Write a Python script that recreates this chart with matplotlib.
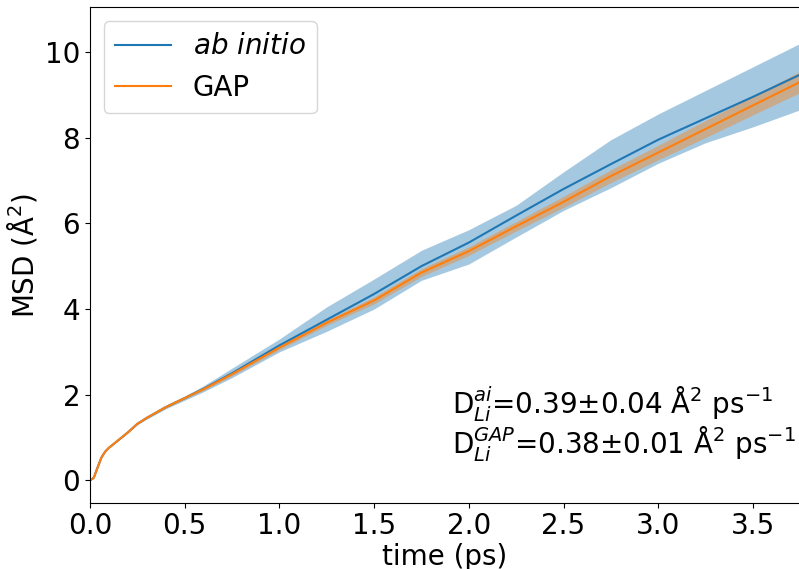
import numpy as np
import matplotlib
matplotlib.use("Agg")
import matplotlib.pyplot as plt

# time (ps)
t = [0, 0.02, 0.04, 0.06, 0.08, 0.1, 0.15, 0.2, 0.25, 0.3, 0.4, 0.5, 0.6, 0.75,
     1.0, 1.25, 1.5, 1.75, 2.0, 2.25, 2.5, 2.75, 3.0, 3.25, 3.5, 3.75]

# ab initio MSD mean and spread
ai_mean = [0, 0.06, 0.3, 0.53, 0.67, 0.76, 0.94, 1.12, 1.32, 1.46, 1.71, 1.92, 2.14, 2.5,
           3.15, 3.75, 4.35, 5.0, 5.55, 6.18, 6.8, 7.38, 7.95, 8.45, 8.95, 9.47]
ai_upper = [0, 0.06, 0.3, 0.53, 0.67, 0.76, 0.95, 1.13, 1.34, 1.49, 1.75, 1.97, 2.21, 2.62,
            3.3, 4.05, 4.7, 5.37, 5.85, 6.42, 7.2, 7.95, 8.55, 9.1, 9.65, 10.2]
ai_lower = [0, 0.06, 0.3, 0.53, 0.67, 0.76, 0.93, 1.11, 1.3, 1.43, 1.67, 1.87, 2.07, 2.4,
            3.0, 3.48, 4.0, 4.67, 5.05, 5.68, 6.3, 6.83, 7.4, 7.88, 8.25, 8.65]

# GAP MSD mean and spread
gap_mean = [0, 0.06, 0.3, 0.53, 0.67, 0.76, 0.94, 1.12, 1.32, 1.46, 1.71, 1.92, 2.13, 2.48,
            3.1, 3.68, 4.2, 4.85, 5.35, 5.93, 6.5, 7.1, 7.65, 8.2, 8.75, 9.3]
gap_err = [0, 0, 0, 0, 0, 0, 0.01, 0.01, 0.01, 0.01, 0.02, 0.02, 0.03, 0.04,
           0.05, 0.06, 0.08, 0.09, 0.1, 0.11, 0.13, 0.15, 0.17, 0.2, 0.22, 0.25]

gap_mean = np.array(gap_mean)
gap_err = np.array(gap_err)

fig = plt.figure(figsize=(7.99, 5.69), dpi=100)
ax = fig.add_axes([0.1126, 0.1165, 0.8890, 0.8707])

ax.plot(t, ai_mean, color='C0', label=r'$ab\ initio$')
ax.fill_between(t, ai_lower, ai_upper, color='C0', alpha=0.4, linewidth=0)
ax.plot(t, gap_mean, color='C1', label='GAP')
ax.fill_between(t, gap_mean - gap_err, gap_mean + gap_err, color='C1', alpha=0.4, linewidth=0)

ax.set_xlim(0, 3.75)
ax.set_ylim(-0.52, 11.04)
ax.set_xticks([0, 0.5, 1.0, 1.5, 2.0, 2.5, 3.0, 3.5])
ax.set_yticks([0, 2, 4, 6, 8, 10])
ax.tick_params(labelsize=20)
ax.set_xlabel('time (ps)', fontsize=20, labelpad=2)
ax.set_ylabel(r'MSD (Å$^2$)', fontsize=20)
ax.legend(loc='upper left', fontsize=20)

ax.text(0.509, 0.182, r'D$_{Li}^{ai}$=0.39±0.04 Å$^2$ ps$^{-1}$', transform=ax.transAxes,
        fontsize=20, va='baseline', ha='left')
ax.text(0.509, 0.101, r'D$_{Li}^{GAP}$=0.38±0.01 Å$^2$ ps$^{-1}$', transform=ax.transAxes,
        fontsize=20, va='baseline', ha='left')

fig.savefig('out.png', dpi=100)
